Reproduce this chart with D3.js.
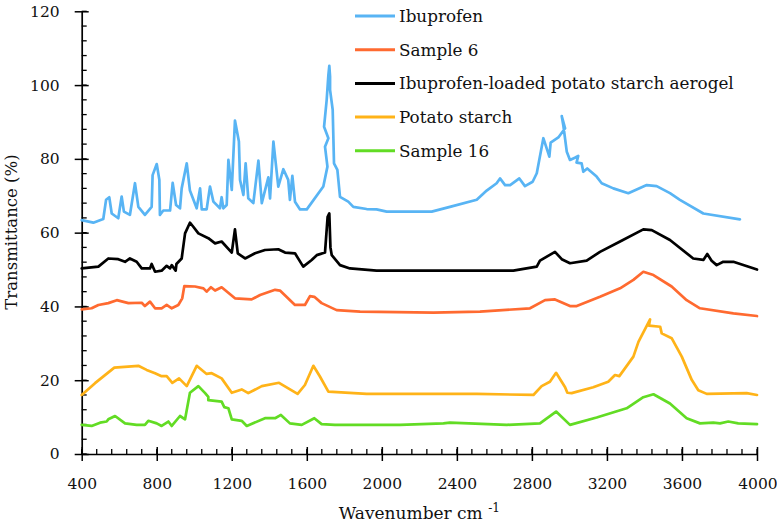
<!DOCTYPE html>
<html><head><meta charset="utf-8">
<script src="https://cdn.jsdelivr.net/npm/d3@7"></script>
<style>body{margin:0;background:#fff}svg{display:block}svg text{font-family:'DejaVu Serif',serif !important;fill:#111}</style>
</head><body><svg id="c" width="777" height="528"></svg>
<script>
const seriesNames = ["Ibuprofen","Sample 6","Ibuprofen-loaded potato starch aerogel","Potato starch","Sample 16"];
const seriesColors = ["#58b4f4","#ff6a30","#000000","#ffb318","#62dc24"];
const xTicks = [400,800,1200,1600,2000,2400,2800,3200,3600,4000];
const yTicks = [0,20,40,60,80,100,120];

const ibuprofen = [[400,63.4],[462,62.7],[515,63.7],[530,68.9],[547,69.6],[560,65.2],[595,63.9],[613,69.8],[625,65.7],[657,64.8],[684,73.4],[702,67.0],[737,64.8],[773,67.0],[778,75.6],[800,78.6],[814,74.3],[817,64.8],[835,66.0],[871,66.0],[885,73.5],[903,67.5],[924,66.6],[933,72.0],[960,78.8],[977,71.4],[1013,66.6],[1031,72.0],[1040,66.3],[1066,66.3],[1084,72.5],[1102,68.4],[1137,66.6],[1146,69.6],[1155,66.6],[1173,67.5],[1182,79.7],[1200,71.6],[1217,90.4],[1238,84.7],[1244,74.3],[1262,70.2],[1274,78.8],[1288,69.3],[1315,68.0],[1342,79.5],[1360,68.0],[1395,75.0],[1404,69.3],[1422,84.7],[1448,72.5],[1475,77.2],[1501,74.3],[1510,68.9],[1523,75.4],[1537,68.4],[1564,66.3],[1600,66.3],[1688,72.5],[1710,77.9],[1697,83.3],[1715,85.6],[1692,88.7],[1706,96.0],[1715,102.7],[1720,105.2],[1724,102.3],[1724,98.7],[1738,93.3],[1745,78.8],[1763,77.0],[1777,69.7],[1821,68.4],[1848,67.0],[1919,66.4],[1972,66.3],[2026,65.7],[2266,65.7],[2363,67.0],[2506,68.9],[2559,71.4],[2612,73.4],[2630,74.7],[2657,72.9],[2684,72.9],[2733,74.7],[2763,72.6],[2804,73.8],[2826,76.1],[2861,85.6],[2893,80.6],[2900,84.4],[2941,85.8],[2977,88.3],[2959,91.6],[2968,88.9],[2986,81.9],[3003,79.7],[3029,80.3],[3047,80.8],[3038,79.0],[3065,78.8],[3074,76.5],[3095,77.4],[3145,75.2],[3172,73.4],[3234,72.0],[3314,70.7],[3412,72.9],[3465,72.6],[3536,70.7],[3589,68.9],[3714,65.2],[3909,63.6]];

const sample6 = [[400,39.2],[453,39.5],[489,40.4],[542,40.9],[587,41.7],[649,40.9],[720,41.0],[737,40.1],[764,41.3],[791,39.5],[826,39.5],[853,40.4],[880,39.5],[915,40.4],[936,42.2],[947,45.5],[1004,45.4],[1049,44.9],[1066,44.0],[1089,45.2],[1111,44.3],[1146,45.2],[1217,42.2],[1306,41.9],[1351,43.1],[1431,44.5],[1457,44.3],[1537,40.4],[1590,40.4],[1617,42.8],[1640,42.6],[1679,40.9],[1759,39.0],[1884,38.6],[2275,38.3],[2523,38.6],[2790,39.5],[2870,41.7],[2923,41.9],[3003,40.1],[3039,40.1],[3163,42.6],[3270,44.9],[3341,47.2],[3394,49.4],[3448,48.5],[3545,45.4],[3625,41.7],[3696,39.5],[3874,38.1],[4000,37.4]];

const aerogel = [[400,50.3],[489,50.8],[542,53.0],[595,52.8],[631,52.1],[657,53.0],[693,52.1],[720,50.3],[764,50.3],[773,51.5],[791,49.4],[826,49.7],[853,51.0],[871,50.3],[880,51.2],[901,49.7],[905,51.5],[933,53.0],[951,59.8],[977,62.7],[995,61.6],[1022,59.8],[1075,58.5],[1111,57.1],[1146,57.6],[1200,54.6],[1217,60.9],[1232,54.4],[1271,53.0],[1324,54.4],[1377,55.3],[1448,55.5],[1484,54.6],[1537,54.4],[1581,50.8],[1626,52.6],[1653,53.9],[1697,54.6],[1711,64.3],[1720,65.2],[1726,56.0],[1733,53.9],[1777,51.2],[1830,50.3],[1972,49.7],[2701,49.7],[2826,50.8],[2843,52.4],[2923,54.8],[2959,52.8],[3003,51.7],[3092,52.4],[3163,54.8],[3270,57.6],[3394,60.9],[3439,60.7],[3536,58.0],[3660,53.0],[3714,52.6],[3735,54.2],[3758,52.4],[3785,51.2],[3820,52.1],[3874,52.1],[4000,50.0]];

const potatoStarch = [[400,16.0],[471,19.2],[574,23.4],[702,23.9],[746,22.8],[791,21.9],[826,21.1],[853,21.1],[883,19.3],[919,20.5],[960,18.4],[1013,23.9],[1066,21.7],[1093,21.9],[1146,20.5],[1200,16.6],[1253,17.5],[1288,16.5],[1360,18.4],[1452,19.3],[1551,16.3],[1590,18.7],[1635,23.9],[1670,21.0],[1715,16.9],[1919,16.3],[2506,16.3],[2808,16.0],[2852,18.4],[2896,19.6],[2929,22.0],[2977,18.1],[2989,16.6],[3012,16.5],[3127,18.1],[3207,19.6],[3243,21.4],[3266,21.1],[3296,23.2],[3341,26.4],[3368,30.4],[3430,36.5],[3424,34.8],[3484,34.5],[3492,32.7],[3545,31.4],[3599,26.4],[3652,20.1],[3687,17.3],[3732,16.3],[3945,16.5],[4000,16.0]];

const sample16 = [[400,7.9],[453,7.6],[498,8.5],[533,8.8],[542,9.4],[578,10.3],[631,8.3],[693,7.9],[737,7.9],[755,9.0],[800,8.3],[826,7.6],[862,8.8],[880,7.6],[924,10.3],[951,9.4],[977,16.6],[1022,18.4],[1058,16.5],[1075,15.5],[1075,14.6],[1146,14.2],[1160,12.7],[1182,12.4],[1200,9.4],[1253,9.0],[1280,7.6],[1377,9.7],[1431,9.7],[1462,10.6],[1510,8.3],[1573,7.9],[1640,9.7],[1679,8.1],[1750,7.9],[2097,7.9],[2328,8.3],[2363,8.5],[2666,7.9],[2843,8.3],[2929,11.5],[3003,7.9],[3145,9.9],[3305,12.4],[3394,15.4],[3448,16.2],[3536,13.7],[3625,9.7],[3696,8.3],[3767,8.5],[3803,8.3],[3847,8.8],[3900,8.3],[4000,8.1]];

const allSeries = [ibuprofen, sample6, aerogel, potatoStarch, sample16];

const W = 777, H = 528;
const m = {l:81.7, r:20, t:11.3, b:74};
const FONT = "'DejaVu Serif', serif";
const svg = d3.select("#c");
const x = d3.scaleLinear().domain([400,4000]).range([m.l, W-m.r]);
const y = d3.scaleLinear().domain([0,120]).range([H-m.b, m.t]);

const g = svg.append("g");
g.selectAll(".xm").data(d3.range(400, 4001, 80)).join("line")
  .attr("x1", d=>x(d)).attr("x2", d=>x(d)).attr("y1", y(0)).attr("y2", y(0)-5)
  .attr("stroke","#000").attr("stroke-width",1.3);
g.selectAll(".ym").data(d3.range(0, 121, 4)).join("line")
  .attr("y1", d=>y(d)).attr("y2", d=>y(d)).attr("x1", x(400)).attr("x2", x(400)+5)
  .attr("stroke","#000").attr("stroke-width",1.3);

const xAxis = svg.append("g").attr("transform",`translate(0,${y(0)})`)
  .call(d3.axisBottom(x).tickValues(xTicks).tickSize(7).tickSizeOuter(0).tickPadding(17).tickFormat(d3.format("d")));
xAxis.selectAll(".tick line").attr("y1",-7).attr("stroke-width",1.5);
const yAxis = svg.append("g").attr("transform",`translate(${x(400)},0)`)
  .call(d3.axisLeft(y).tickValues(yTicks).tickSize(7).tickSizeOuter(0).tickPadding(15));
yAxis.selectAll(".tick line").attr("x1",7).attr("stroke-width",1.5);
svg.selectAll("g").attr("font-family", FONT);
svg.selectAll(".domain").attr("stroke","#000").attr("stroke-width",1.7);
svg.selectAll(".tick text").attr("font-family",FONT).attr("font-size",15.5).attr("fill","#111");
xAxis.selectAll(".tick").filter(d=>d===4000).select("text").attr("text-anchor","end").attr("dx","1.3em");

const line = d3.line().x(d=>x(d[0])).y(d=>y(d[1]));
svg.append("g").selectAll("path").data(allSeries).join("path")
  .attr("d", line).attr("fill","none")
  .attr("stroke",(d,i)=>seriesColors[i]).attr("stroke-width",2.7)
  .attr("stroke-linejoin","round").attr("stroke-linecap","round");

const lg = svg.append("g");
seriesNames.forEach((n,i)=>{
  const yy = 16 + i*33.7;
  lg.append("line").attr("x1",355).attr("x2",395).attr("y1",yy).attr("y2",yy)
    .attr("stroke",seriesColors[i]).attr("stroke-width",3);
  lg.append("text").attr("x",399).attr("y",yy).attr("dy","0.35em")
    .attr("font-family",FONT).attr("font-size",16.8).text(n);
});

const xt = svg.append("text").attr("x",(x(400)+x(4000))/2).attr("y",519)
  .attr("text-anchor","middle").attr("font-family",FONT).attr("font-size",17);
xt.append("tspan").text("Wavenumber cm ");
xt.append("tspan").attr("font-size",12).attr("dy",-7).text("-1");
svg.append("text").attr("transform",`translate(17,232) rotate(-90)`)
  .attr("text-anchor","middle").attr("font-family",FONT).attr("font-size",16.5).text("Transmittance (%)");
</script></body></html>
